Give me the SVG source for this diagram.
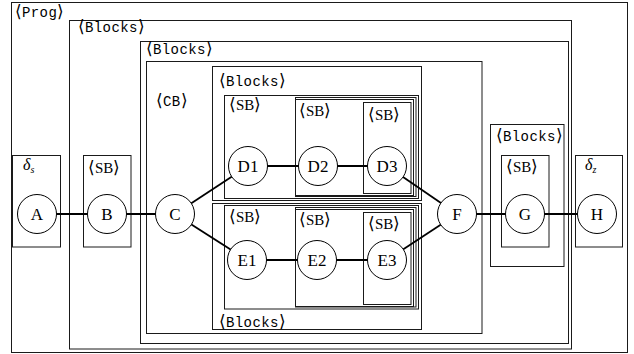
<svg xmlns="http://www.w3.org/2000/svg" width="634" height="354" viewBox="0 0 634 354">
  <style>
    .box { fill: none; stroke: #1a1a1a; stroke-width: 1; }
    .edge { stroke: #000; stroke-width: 1.8; fill: none; }
    .node circle { fill: #fff; stroke: #000; stroke-width: 1; }
    .node text { font-family: "Liberation Serif", "Times New Roman", serif; font-size: 17px; text-anchor: middle; fill: #000; }
    .lb { font-family: "Liberation Mono", "DejaVu Sans Mono", monospace; font-size: 14px; letter-spacing: 0.4px; fill: #000; }
    .sb { font-family: "Liberation Serif", "Times New Roman", serif; font-size: 15px; fill: #000; }
    .br { font-family: "DejaVu Sans", sans-serif; font-size: 17px; letter-spacing: 0; font-weight: 300; }
    .dl { font-family: "Liberation Serif", serif; font-style: italic; font-size: 16px; fill: #000; }
  </style>
  <rect width="634" height="354" fill="#fff"/>

  <!-- program frame -->
  <g id="prog">
    <rect class="box" x="11.5" y="2.5" width="616" height="350"/>
    <text class="lb" x="15" y="17"><tspan class="br">⟨</tspan>Prog<tspan class="br">⟩</tspan></text>
  </g>

  <!-- start block -->
  <g id="start">
    <rect class="box" x="12.5" y="155.5" width="48" height="91.5"/>
    <text class="dl" x="23" y="170">δ<tspan font-size="10" dy="3">s</tspan></text>
  </g>

  <!-- outer Blocks -->
  <g id="blocks-outer">
    <rect class="box" x="69.5" y="20.5" width="502" height="328.5"/>
    <text class="lb" x="78" y="32"><tspan class="br">⟨</tspan>Blocks<tspan class="br">⟩</tspan></text>
  </g>

  <g id="sb-b">
    <rect class="box" x="83.5" y="155.5" width="47.5" height="91.5"/>
    <text class="sb" x="88" y="173"><tspan class="br">⟨</tspan>SB<tspan class="br">⟩</tspan></text>
  </g>

  <g id="blocks-inner">
    <rect class="box" x="140.5" y="41.5" width="428" height="302"/>
    <text class="lb" x="146" y="54"><tspan class="br">⟨</tspan>Blocks<tspan class="br">⟩</tspan></text>
  </g>

  <g id="cb">
    <rect class="box" x="146.5" y="61.5" width="335.5" height="272"/>
    <text class="lb" x="156" y="106"><tspan class="br">⟨</tspan>CB<tspan class="br">⟩</tspan></text>
  </g>

  <!-- upper branch -->
  <g id="blocks-d">
    <rect class="box" x="212.5" y="66.5" width="209" height="134"/>
    <text class="lb" x="219" y="86"><tspan class="br">⟨</tspan>Blocks<tspan class="br">⟩</tspan></text>
  </g>
  <g id="sb-d1">
    <rect class="box" x="224.5" y="95.5" width="194" height="103"/>
    <text class="sb" x="229" y="110"><tspan class="br">⟨</tspan>SB<tspan class="br">⟩</tspan></text>
  </g>
  <g id="sb-d2">
    <rect class="box" x="295.5" y="97.5" width="120.5" height="99"/>
    <rect class="box" x="295.5" y="99.5" width="118" height="96"/>
    <text class="sb" x="299" y="116"><tspan class="br">⟨</tspan>SB<tspan class="br">⟩</tspan></text>
  </g>
  <g id="sb-d3">
    <rect class="box" x="363.5" y="102.5" width="47.5" height="91"/>
    <text class="sb" x="368" y="120"><tspan class="br">⟨</tspan>SB<tspan class="br">⟩</tspan></text>
  </g>

  <!-- lower branch -->
  <g id="blocks-e">
    <rect class="box" x="212.5" y="203.5" width="209" height="126"/>
    <text class="lb" x="219" y="326.5"><tspan class="br">⟨</tspan>Blocks<tspan class="br">⟩</tspan></text>
  </g>
  <g id="sb-e1">
    <rect class="box" x="224.5" y="205.5" width="194" height="103.5"/>
    <text class="sb" x="229" y="221.5"><tspan class="br">⟨</tspan>SB<tspan class="br">⟩</tspan></text>
  </g>
  <g id="sb-e2">
    <rect class="box" x="295.5" y="207.5" width="120.5" height="99.5"/>
    <rect class="box" x="295.5" y="209.5" width="118" height="97"/>
    <text class="sb" x="299" y="225"><tspan class="br">⟨</tspan>SB<tspan class="br">⟩</tspan></text>
  </g>
  <g id="sb-e3">
    <rect class="box" x="363.5" y="212.5" width="47.5" height="92"/>
    <text class="sb" x="368" y="228.5"><tspan class="br">⟨</tspan>SB<tspan class="br">⟩</tspan></text>
  </g>

  <!-- G side -->
  <g id="blocks-g">
    <rect class="box" x="490.5" y="124.5" width="73.5" height="142"/>
    <text class="lb" x="496" y="140.5"><tspan class="br">⟨</tspan>Blocks<tspan class="br">⟩</tspan></text>
  </g>
  <g id="sb-g">
    <rect class="box" x="501.5" y="155.5" width="47.5" height="91.5"/>
    <text class="sb" x="506" y="172"><tspan class="br">⟨</tspan>SB<tspan class="br">⟩</tspan></text>
  </g>

  <!-- end block -->
  <g id="end">
    <rect class="box" x="575.5" y="155.5" width="47" height="91.5"/>
    <text class="dl" x="585" y="170">δ<tspan font-size="10" dy="3">z</tspan></text>
  </g>

  <!-- connectors -->
  <g id="edges">
    <line class="edge" x1="37" y1="214" x2="107" y2="214"/>
    <line class="edge" x1="107" y1="214" x2="175" y2="214"/>
    <line class="edge" x1="175" y1="214" x2="248" y2="166"/>
    <line class="edge" x1="175" y1="214" x2="247" y2="260"/>
    <line class="edge" x1="248" y1="166" x2="318" y2="166"/>
    <line class="edge" x1="318" y1="166" x2="387" y2="166"/>
    <line class="edge" x1="247" y1="260" x2="317" y2="260"/>
    <line class="edge" x1="317" y1="260" x2="387" y2="260"/>
    <line class="edge" x1="387" y1="166" x2="457" y2="214"/>
    <line class="edge" x1="387" y1="260" x2="457" y2="214"/>
    <line class="edge" x1="457" y1="214" x2="525" y2="214"/>
    <line class="edge" x1="525" y1="214" x2="597" y2="214"/>
  </g>

  <!-- nodes -->
  <g id="A" class="node"><circle cx="37" cy="214" r="19.5"/><text x="37" y="220">A</text></g>
  <g id="B" class="node"><circle cx="107" cy="214" r="19.5"/><text x="107" y="220">B</text></g>
  <g id="C" class="node"><circle cx="175" cy="214" r="19.5"/><text x="175" y="220">C</text></g>
  <g id="D1" class="node"><circle cx="248" cy="166" r="19.5"/><text x="248" y="172">D1</text></g>
  <g id="D2" class="node"><circle cx="318" cy="166" r="19.5"/><text x="318" y="172">D2</text></g>
  <g id="D3" class="node"><circle cx="387" cy="166" r="19.5"/><text x="387" y="172">D3</text></g>
  <g id="E1" class="node"><circle cx="247" cy="260" r="19.5"/><text x="247" y="266">E1</text></g>
  <g id="E2" class="node"><circle cx="317" cy="260" r="19.5"/><text x="317" y="266">E2</text></g>
  <g id="E3" class="node"><circle cx="387" cy="260" r="19.5"/><text x="387" y="266">E3</text></g>
  <g id="F" class="node"><circle cx="457" cy="214" r="19.5"/><text x="457" y="220">F</text></g>
  <g id="G" class="node"><circle cx="525" cy="214" r="19.5"/><text x="525" y="220">G</text></g>
  <g id="H" class="node"><circle cx="597" cy="214" r="19.5"/><text x="597" y="220">H</text></g>
</svg>
